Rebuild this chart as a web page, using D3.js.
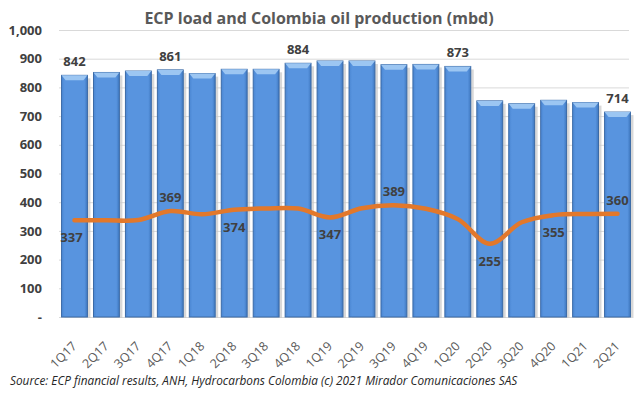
<!DOCTYPE html>
<html>
<head>
<meta charset="utf-8">
<script src="https://cdn.jsdelivr.net/npm/d3@7"></script>
<style>
  body { margin: 0; background: #fff; }
  text { font-family: "Open Sans", "Liberation Sans", sans-serif; }
</style>
</head>
<body>
<script>
const quarters = ['1Q17', '2Q17', '3Q17', '4Q17', '1Q18', '2Q18', '3Q18', '4Q18', '1Q19',
  '2Q19', '3Q19', '4Q19', '1Q20', '2Q20', '3Q20', '4Q20', '1Q21', '2Q21']
// ECP refinery load (bars)
const ecpLoad = [842, 852, 857, 861, 848, 863, 863, 884, 892, 892, 879, 880, 873, 753, 743, 755, 747, 714]
// Colombia oil production (line)
const oilProd = [337, 337, 338, 369, 358, 374, 378, 378, 347, 379, 389, 377, 341, 255, 330, 355, 359, 360]
const yTicks = [0, 100, 200, 300, 400, 500, 600, 700, 800, 900, 1000]
// which points get a label, and where
const barLabels = { '1Q17': 842, '4Q17': 861, '4Q18': 884, '1Q20': 873, '2Q21': 714 }
const lineLabels = { '1Q17': 'below', '4Q17': 'above', '2Q18': 'below', '1Q19': 'below',
  '3Q19': 'above', '2Q20': 'below', '4Q20': 'below', '2Q21': 'above' }

const fullWidth = 640
const fullHeight = 395
const margin = { top: 30, right: 7, bottom: 78, left: 59 }
const lineColor = '#e2782b'
const textColor = '#404040'

const svg = d3.select('body').append('svg')
  .attr('width', fullWidth)
  .attr('height', fullHeight)

const defs = svg.append('defs')
const grad = defs.append('linearGradient')
  .attr('id', 'barGrad')
  .attr('x1', 0).attr('x2', 1).attr('y1', 0).attr('y2', 0)
grad.append('stop').attr('offset', '0%').attr('stop-color', '#4a86d2')
grad.append('stop').attr('offset', '12%').attr('stop-color', '#5894df')
grad.append('stop').attr('offset', '88%').attr('stop-color', '#5894df')
grad.append('stop').attr('offset', '100%').attr('stop-color', '#3f78c0')

const x = d3.scaleBand()
  .domain(quarters)
  .range([margin.left, fullWidth - margin.right])
  .paddingInner(0.19)
  .paddingOuter(0.08)

const y = d3.scaleLinear()
  .domain([0, 1000])
  .range([fullHeight - margin.bottom, margin.top])

// title
svg.append('text')
  .attr('x', 319)
  .attr('y', 24)
  .attr('text-anchor', 'middle')
  .attr('font-size', 16)
  .attr('font-weight', 'bold')
  .attr('fill', '#595959')
  .text('ECP load and Colombia oil production (mbd)')

// grid + y axis
const yAxis = d3.axisLeft(y)
  .tickValues(yTicks)
  .tickSize(-(x.range()[1] - margin.left - 4))
  .tickFormat(d => d === 0 ? '-' : d3.format(',')(d))

const yG = svg.append('g')
  .attr('transform', `translate(${margin.left},0)`)
  .call(yAxis)
yG.select('.domain').remove()
yG.selectAll('.tick line').attr('stroke', '#d9d9d9')
yG.selectAll('.tick text')
  .attr('x', -17)
  .attr('font-size', 13)
  .attr('font-weight', 'bold')
  .attr('fill', textColor)

// bars: shadow, body, bevel
const bw = x.bandwidth()
svg.append('g').selectAll('rect')
  .data(quarters)
  .join('rect')
  .attr('x', d => x(d) + 3)
  .attr('y', (d, i) => y(ecpLoad[i]) + 3)
  .attr('width', bw)
  .attr('height', (d, i) => y(0) - y(ecpLoad[i]) - 2)
  .attr('fill', '#c8c8c8')
  .attr('opacity', 0.7)

svg.append('g').selectAll('rect')
  .data(quarters)
  .join('rect')
  .attr('x', d => x(d))
  .attr('y', (d, i) => y(ecpLoad[i]))
  .attr('width', bw)
  .attr('height', (d, i) => y(0) - y(ecpLoad[i]))
  .attr('fill', 'url(#barGrad)')
  .attr('stroke', '#3b6aa6')
  .attr('stroke-width', 1)

svg.append('g').selectAll('path')
  .data(quarters)
  .join('path')
  .attr('d', (d, i) => {
    const x0 = x(d), x1 = x(d) + bw, t = y(ecpLoad[i])
    return `M${x0},${t}L${x1},${t}L${x1 - 4},${t + 5}L${x0 + 4},${t + 5}Z`
  })
  .attr('fill', '#9cc6f2')

// line
const cx = d => x(d) + bw / 2
const line = d3.line()
  .x(d => cx(d))
  .y((d, i) => y(oilProd[i]))
  .curve(d3.curveCatmullRom.alpha(0.5))

svg.append('path')
  .datum(quarters)
  .attr('d', line)
  .attr('fill', 'none')
  .attr('stroke', lineColor)
  .attr('stroke-width', 4.5)
  .attr('stroke-linejoin', 'round')
  .attr('stroke-linecap', 'round')

// bar labels
svg.append('g').selectAll('text')
  .data(quarters.filter(q => barLabels[q] !== undefined))
  .join('text')
  .attr('x', d => cx(d))
  .attr('y', d => y(barLabels[d]) - 9)
  .attr('text-anchor', 'middle')
  .attr('font-size', 13)
  .attr('font-weight', 'bold')
  .attr('fill', textColor)
  .text(d => barLabels[d])

// line labels
svg.append('g').selectAll('text')
  .data(quarters.filter(q => lineLabels[q] !== undefined))
  .join('text')
  .attr('x', d => cx(d) - (d === '1Q17' ? 3 : 0))
  .attr('y', d => {
    const v = oilProd[quarters.indexOf(d)]
    return lineLabels[d] === 'above' ? y(v) - 9 : y(v) + 22
  })
  .attr('text-anchor', 'middle')
  .attr('font-size', 13)
  .attr('font-weight', 'bold')
  .attr('fill', textColor)
  .text(d => oilProd[quarters.indexOf(d)])

// x axis labels, rotated
svg.append('g').selectAll('text')
  .data(quarters)
  .join('text')
  .attr('transform', d => `translate(${cx(d) + 3},${y(0) + 30}) rotate(-45)`)
  .attr('text-anchor', 'end')
  .attr('font-size', 12.5)
  .attr('fill', '#595959')
  .text(d => d)

// source
svg.append('text')
  .attr('x', 10)
  .attr('y', 385)
  .attr('font-size', 11.8)
  .attr('font-style', 'italic')
  .attr('fill', '#262626')
  .text('Source:  ECP financial results,  ANH, Hydrocarbons  Colombia (c) 2021 Mirador  Comunicaciones SAS')
</script>
</body>
</html>
